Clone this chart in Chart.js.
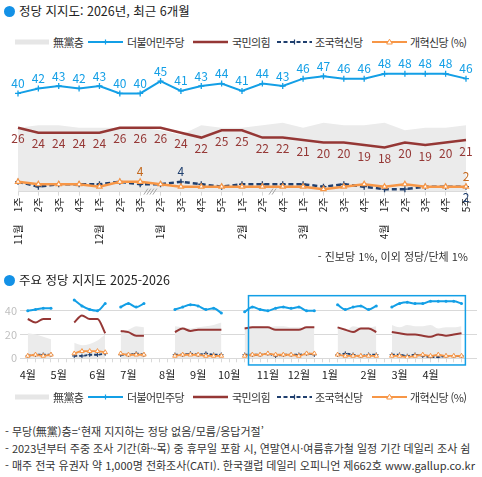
<!DOCTYPE html>
<html lang="ko">
<head>
<meta charset="utf-8">
<script src="https://cdn.jsdelivr.net/npm/chart.js@4.4.1/dist/chart.umd.min.js"></script>
<style>
  html, body { margin: 0; padding: 0; background: #fff; }
  body { width: 482px; height: 477px; position: relative; overflow: hidden;
         font-family: "Noto Sans CJK KR", "Noto Sans", sans-serif; color: #222; }
  .abs { position: absolute; white-space: nowrap; }
  .title { font-size: 12.5px; line-height: 16px; }
  .dot { position: absolute; width: 11px; height: 11px; border-radius: 50%; background: #1391e6; }
  .legend { position: absolute; left: 0; width: 482px; height: 14px; font-size: 11px; line-height: 14px; }
  .legend span { position: absolute; top: 0; letter-spacing: -0.6px; color: #333; }
  .legend svg { position: absolute; top: 2px; }
  .note { font-size: 11px; line-height: 14px; color: #333; }
  #topBox { position: absolute; left: 0; top: 50px; width: 482px; height: 210px; }
  #botBox { position: absolute; left: 0; top: 285px; width: 482px; height: 100px; }
</style>
</head>
<body>

<div class="dot" style="left:4px; top:6px;"></div>
<div class="abs title" style="left:19px; top:3px;">정당 지지도: 2026년, 최근 6개월</div>
<div class="legend" id="legendTop" style="top:35px;"></div>

<div id="topBox"><canvas id="topChart"></canvas></div>
<div class="abs note" style="right:14px; top:249px;">- 진보당 1%, 이외 정당/단체 1%</div>

<div class="dot" style="left:4px; top:275px;"></div>
<div class="abs title" style="left:19px; top:272px;">주요 정당 지지도 2025-2026</div>

<div id="botBox"><canvas id="botChart"></canvas></div>
<div class="legend" id="legendBot" style="top:390px;"></div>

<div class="abs note" style="left:5px; top:424px;">- 무당(無黨)층=‘현재 지지하는 정당 없음/모름/응답거절’</div>
<div class="abs note" style="left:5px; top:441px;">- 2023년부터 주중 조사 기간(화~목) 중 휴무일 포함 시, 연말연시·여름휴가철 일정 기간 데일리 조사 쉼</div>
<div class="abs note" style="left:5px; top:458px;">- 매주 전국 유권자 약 1,000명 전화조사(CATI). 한국갤럽 데일리 오피니언 제662호 www.gallup.co.kr</div>

<script>
const BLUE = '#139fe6';
const RED = '#953735';
const NAVY = '#1f3f6e';
const ORANGE = '#f79646';
const ORANGE_TXT = '#c4691f';
const GRAY_FILL = '#ebebeb';

// 최근 6개월 (주간)
const recentLabels = ['11월 1주', '2주', '3주', '4주', '12월 1주', '2주', '3주', '1월 2주', '3주', '4주', '5주',
  '2월 1주', '2주', '4주', '3월 1주', '2주', '3주', '4주', '4월 1주', '2주', '3주', '4주', '5주'];
const recentWeeks = [31, 32, 33, 34, 35, 36, 37, 40, 41, 42, 43, 44, 45, 47, 48, 49, 50, 51, 52, 53, 54, 55, 56];
const recentMinjoo = [40, 42, 43, 42, 43, 40, 40, 45, 41, 43, 44, 41, 44, 43, 46, 47, 46, 46, 48, 48, 48, 48, 46];
const recentPpp = [26, 24, 24, 24, 24, 26, 26, 26, 24, 22, 25, 25, 22, 22, 21, 20, 20, 19, 18, 20, 19, 20, 21];
const recentNone = [26, 27, 27, 26, 26, 26, 26, 25, 23, 27, 26, 26, 27, 28, 26, 28, 27, 27, 28, 25, 26, 26, 27];
const recentCho = [4, 2, 3, 3, 3, 4, 3, 3, 4, 3, 2, 3, 3, 3, 3, 2, 3, 2, 1, 1, 2, 2, 2];
const recentReform = [4, 3, 3, 3, 2, 4, 4, 3, 2, 2, 2, 2, 2, 2, 2, 1, 2, 3, 2, 3, 2, 2, 2];

// which small-party values get a number
const reformLabelUp = [6, 22];
const choLabelUp = [8];
const choLabelDown = [22];

// 2025년 4월 ~ 10월 (주 번호: 2025년 4월 1주 = 0)
const earlyWeeks = [0, 1, 2, 3, 6, 7, 8, 9, 10, 12, 13, 14, 15, 19, 20, 21, 22, 23, 24, 25, 28, 29, 30];
const earlyMinjoo = [40, 41, 42, 42, 49, 44, 41, 40, 46, 43, 46, 43, 46, 41, 43, 45, 44, 41, 42, 38, 39, 43, 41];
const earlyPpp = [33, 30, 33, 33, 30, 36, 33, 33, 21, 23, 22, 19, 19, 22, 25, 23, 24, 24, 24, 24, 25, 26, 26];
const earlyNone = [21, 20, 18, 16, 13, 11, 12, 15, 20, 22, 24, 27, 26, 27, 26, 25, 26, 27, 28, 30, 26, 27, 27];
const earlyCho = [2, 3, 3, 3, 2, 2, 3, 3, 4, 3, 3, 4, 3, 3, 3, 4, 3, 4, 3, 3, 3, 3, 3];
const earlyReform = [2, 3, 2, 3, 4, 6, 6, 6, 5, 4, 3, 3, 3, 2, 3, 3, 3, 2, 2, 2, 2, 3, 3];

const monthLabels = ['4월', '5월', '6월', '7월', '8월', '9월', '10월', '11월', '12월', '1월', '2월', '3월', '4월'];
const monthWeeks = [0, 4, 9, 13, 18, 22, 26, 31, 35, 39, 44, 48, 52];
const lastWeek = 56;
const highlightWeeks = [28.5, 56.5];
const highlightValues = [52.6, -5.6];

// legend
const legendItems = [
  { name: '無黨층', sw: 15, tx: 53, svg: '<rect x="0" y="2.5" width="34" height="5" fill="#e6e6e6"/>' },
  { name: '더불어민주당', sw: 88, tx: 127, svg: '<line x1="0" y1="5" x2="35" y2="5" stroke="' + BLUE + '" stroke-width="2"/><line x1="17.5" y1="2.5" x2="17.5" y2="7.5" stroke="' + BLUE + '" stroke-width="1.2"/>' },
  { name: '국민의힘', sw: 193, tx: 232, svg: '<line x1="0" y1="5" x2="35" y2="5" stroke="' + RED + '" stroke-width="2.5"/>' },
  { name: '조국혁신당', sw: 277, tx: 315, svg: '<line x1="0" y1="5" x2="35" y2="5" stroke="' + NAVY + '" stroke-width="2.2" stroke-dasharray="4 2.5"/><line x1="17.5" y1="2.5" x2="17.5" y2="7.5" stroke="' + NAVY + '" stroke-width="1.2"/>' },
  { name: '개혁신당 (%)', sw: 372, tx: 410, svg: '<line x1="0" y1="5" x2="35" y2="5" stroke="' + ORANGE + '" stroke-width="2.2"/><polygon points="17.5,2.2 20.3,7 14.7,7" fill="#fff" stroke="' + ORANGE + '" stroke-width="1"/>' }
];

function buildLegend(id) {
  const box = document.getElementById(id);
  legendItems.forEach(item => {
    box.insertAdjacentHTML('beforeend',
      '<svg width="35" height="10" style="left:' + item.sw + 'px">' + item.svg + '</svg>' +
      '<span style="left:' + item.tx + 'px">' + item.name + '</span>');
  });
}
buildLegend('legendTop');
buildLegend('legendBot');

const FONT = '"Noto Sans CJK KR", "Noto Sans", sans-serif';

// numbers next to the points
const valueLabels = {
  id: 'valueLabels',
  afterDatasetsDraw(chart) {
    const ctx = chart.ctx;
    chart.data.datasets.forEach((ds, i) => {
      const meta = chart.getDatasetMeta(i);
      ctx.save();
      ctx.font = '12px ' + FONT;
      ctx.fillStyle = ds.labelColor;
      ctx.textAlign = 'center';
      ctx.textBaseline = 'middle';
      (ds.labelUp || []).forEach(idx => {
        const pt = meta.data[idx];
        ctx.fillText(ds.data[idx], pt.x, pt.y - 10);
      });
      (ds.labelDown || []).forEach(idx => {
        const pt = meta.data[idx];
        ctx.fillText(ds.data[idx], pt.x, pt.y + 11);
      });
      ctx.restore();
    });
  }
};

// "//" marks on the axis where weeks were skipped
const skipMarks = {
  id: 'skipMarks',
  afterDraw(chart) {
    const ctx = chart.ctx;
    const x = chart.scales.x;
    const y0 = chart.chartArea.bottom;
    ctx.save();
    ctx.strokeStyle = '#a6a6a6';
    ctx.lineWidth = 1;
    for (let i = 1; i < recentWeeks.length; i++) {
      const missing = recentWeeks[i] - recentWeeks[i - 1] - 1;
      if (missing <= 0) continue;
      const mid = (x.getPixelForValue(i - 1) + x.getPixelForValue(i)) / 2;
      const n = missing * 2;
      for (let k = 0; k < n; k++) {
        const cx = mid + (k - (n - 1) / 2) * 3;
        ctx.beginPath();
        ctx.moveTo(cx - 2, y0 + 3);
        ctx.lineTo(cx + 2, y0 - 3);
        ctx.stroke();
      }
    }
    ctx.restore();
  }
};

const allIdx = recentLabels.map((_, i) => i);

new Chart(document.getElementById('topChart'), {
  type: 'line',
  data: {
    labels: recentLabels,
    datasets: [
      { data: recentMinjoo, borderColor: BLUE, borderWidth: 2, pointStyle: 'cross', pointRadius: 3,
        pointBorderWidth: 1.3, pointBorderColor: BLUE, labelUp: allIdx, labelColor: BLUE, clip: false, order: 1 },
      { data: recentReform, borderColor: ORANGE, borderWidth: 2.5, pointStyle: 'triangle', pointRadius: 3,
        pointBackgroundColor: '#fff', pointBorderColor: ORANGE, pointBorderWidth: 1.2,
        labelUp: reformLabelUp, labelColor: ORANGE_TXT, clip: false, order: 2 },
      { data: recentCho, borderColor: NAVY, borderWidth: 2.5, borderDash: [5, 3], pointStyle: 'cross', pointRadius: 3,
        pointBorderWidth: 1.3, pointBorderColor: NAVY, labelUp: choLabelUp, labelDown: choLabelDown,
        labelColor: NAVY, clip: false, order: 3 },
      { data: recentPpp, borderColor: RED, borderWidth: 2.5, pointRadius: 0, labelDown: allIdx,
        labelColor: RED, clip: false, order: 4 },
      { data: recentNone, borderWidth: 0, pointRadius: 0, fill: 'origin', backgroundColor: GRAY_FILL, order: 5 }
    ]
  },
  options: {
    responsive: true,
    maintainAspectRatio: false,
    animation: false,
    layout: { padding: { top: 9, left: 18, right: 16, bottom: 0 } },
    plugins: { legend: { display: false }, tooltip: { enabled: false } },
    scales: {
      x: {
        offset: false,
        grid: { drawOnChartArea: false, tickLength: 4, color: '#d9d9d9' },
        border: { color: '#d9d9d9' },
        ticks: {
          autoSkip: false, minRotation: 90, maxRotation: 90, padding: 2, color: '#222',
          font: { size: 10, family: FONT },
          callback: function(v, i) { return recentLabels[i].replace(' ', '\u2002\u2002 '); }
        },
        afterFit: s => { s.height = 68.4; }
      },
      y: { display: false, min: 0, max: 54 }
    }
  },
  plugins: [valueLabels, skipMarks]
});

// weekly series for the long chart
function weekly(earlyVals, recentVals) {
  const out = [];
  for (let w = 0; w <= lastWeek; w++) out.push({ x: w, y: null });
  earlyWeeks.forEach((w, i) => { out[w].y = earlyVals[i]; });
  recentWeeks.forEach((w, i) => { out[w].y = recentVals[i]; });
  return out;
}

const highlight = {
  id: 'highlight',
  afterDraw(chart) {
    const { ctx, scales: { x, y } } = chart;
    const l = x.getPixelForValue(highlightWeeks[0]);
    const r = x.getPixelForValue(highlightWeeks[1]);
    const t = y.getPixelForValue(highlightValues[0]);
    const b = y.getPixelForValue(highlightValues[1]);
    ctx.save();
    ctx.strokeStyle = BLUE;
    ctx.lineWidth = 1.5;
    ctx.strokeRect(l, t, r - l, b - t);
    ctx.restore();
  }
};

const smooth = { tension: 0.35, cubicInterpolationMode: 'monotone' };

new Chart(document.getElementById('botChart'), {
  type: 'line',
  data: {
    datasets: [
      Object.assign({ data: weekly(earlyMinjoo, recentMinjoo), borderColor: BLUE, borderWidth: 2,
        pointRadius: 1.5, pointBackgroundColor: BLUE, pointBorderWidth: 0, order: 1 }, smooth),
      Object.assign({ data: weekly(earlyReform, recentReform), borderColor: ORANGE, borderWidth: 1.8,
        pointStyle: 'triangle', pointRadius: 2.6, pointBackgroundColor: '#fff', pointBorderColor: ORANGE,
        pointBorderWidth: 1, order: 2 }, smooth),
      Object.assign({ data: weekly(earlyCho, recentCho), borderColor: NAVY, borderWidth: 1.8, borderDash: [3, 2],
        pointStyle: 'cross', pointRadius: 2.2, pointBorderColor: NAVY, pointBorderWidth: 1, order: 3 }, smooth),
      Object.assign({ data: weekly(earlyPpp, recentPpp), borderColor: RED, borderWidth: 2,
        pointRadius: 0, order: 4 }, smooth),
      { data: weekly(earlyNone, recentNone), borderWidth: 0, pointRadius: 0, fill: 'origin',
        backgroundColor: GRAY_FILL, tension: 0.3, cubicInterpolationMode: 'monotone', order: 5 }
    ]
  },
  options: {
    responsive: true,
    maintainAspectRatio: false,
    animation: false,
    parsing: true,
    layout: { padding: { top: 10.2, left: 0, right: 0, bottom: 0 } },
    plugins: { legend: { display: false }, tooltip: { enabled: false } },
    scales: {
      x: {
        type: 'linear', min: -1, max: 58,
        afterBuildTicks: s => {
          const t = [];
          for (let w = 0; w <= lastWeek; w++) t.push({ value: w });
          s.ticks = t;
        },
        grid: { drawOnChartArea: false, tickLength: 4, color: '#d9d9d9' },
        border: { display: false },
        ticks: {
          autoSkip: false, maxRotation: 0, minRotation: 0, padding: 6, color: '#222',
          font: { size: 11, family: FONT },
          callback: v => { const k = monthWeeks.indexOf(v); return k >= 0 ? monthLabels[k] : ''; }
        },
        afterFit: s => { s.height = 26.7; }
      },
      y: {
        min: 0, max: 53,
        afterBuildTicks: s => { s.ticks = [0, 20, 40].map(v => ({ value: v })); },
        grid: { color: '#d9d9d9', drawTicks: false },
        border: { display: false },
        ticks: { padding: 3, color: '#bfbfbf', font: { size: 11, family: FONT } },
        afterFit: s => { s.width = 20; }
      }
    }
  },
  plugins: [highlight]
});
</script>
</body>
</html>
